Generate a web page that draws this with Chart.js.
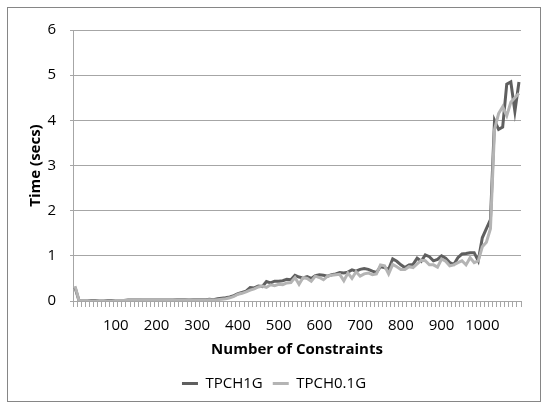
<!DOCTYPE html>
<html>
<head>
<meta charset="utf-8">
<script src="https://cdn.jsdelivr.net/npm/chart.js@4/dist/chart.umd.min.js"></script>
<style>
  html, body { margin: 0; padding: 0; background: #fff; }
  #wrap { position: relative; width: 548px; height: 403px; }
  #chart { position: absolute; left: 0; top: 0; }
  #frame { position: absolute; left: 7px; top: 7px; width: 532px; height: 393px; border: 1px solid #868686; pointer-events: none; }
</style>
</head>
<body>
<div id="wrap">
  <canvas id="chart" width="548" height="403"></canvas>
  <div id="frame"></div>
</div>
<script>
// x categories (number of constraints)
const constraints = [
  0, 10, 20, 30, 40, 50, 60, 70, 80, 90,
  100, 110, 120, 130, 140, 150, 160, 170, 180, 190,
  200, 210, 220, 230, 240, 250, 260, 270, 280, 290,
  300, 310, 320, 330, 340, 350, 360, 370, 380, 390,
  400, 410, 420, 430, 440, 450, 460, 470, 480, 490,
  500, 510, 520, 530, 540, 550, 560, 570, 580, 590,
  600, 610, 620, 630, 640, 650, 660, 670, 680, 690,
  700, 710, 720, 730, 740, 750, 760, 770, 780, 790,
  800, 810, 820, 830, 840, 850, 860, 870, 880, 890,
  900, 910, 920, 930, 940, 950, 960, 970, 980, 990,
  1000, 1010, 1020, 1030, 1040, 1050, 1060, 1070, 1080, 1090
];

// labels that are shown under the x axis
const xTickLabels = [100, 200, 300, 400, 500, 600, 700, 800, 900, 1000];

// time in seconds, TPCH 1G
const tpch1g = [
  0.30, 0.00, 0.00, 0.00, 0.01, 0.01, 0.01, 0.01, 0.01, 0.01,
  0.01, 0.01, 0.01, 0.02, 0.02, 0.02, 0.02, 0.02, 0.02, 0.02,
  0.02, 0.02, 0.02, 0.02, 0.02, 0.03, 0.03, 0.03, 0.02, 0.03,
  0.03, 0.03, 0.03, 0.04, 0.03, 0.05, 0.06, 0.07, 0.09, 0.12,
  0.16, 0.19, 0.22, 0.30, 0.29, 0.33, 0.32, 0.43, 0.40, 0.44,
  0.44, 0.45, 0.48, 0.47, 0.57, 0.53, 0.51, 0.54, 0.50, 0.56,
  0.58, 0.57, 0.55, 0.58, 0.60, 0.63, 0.62, 0.64, 0.69, 0.66,
  0.70, 0.72, 0.70, 0.66, 0.63, 0.76, 0.74, 0.70, 0.93, 0.88,
  0.80, 0.74, 0.80, 0.81, 0.95, 0.88, 1.02, 0.98, 0.89, 0.92,
  1.00, 0.95, 0.85, 0.81, 0.96, 1.04, 1.05, 1.07, 1.07, 0.89,
  1.40, 1.60, 1.80, 4.00, 3.80, 3.85, 4.80, 4.85, 4.20, 4.85
];

// time in seconds, TPCH 0.1G
const tpch01g = [
  0.33, 0.00, 0.00, 0.00, 0.00, 0.00, 0.01, 0.01, 0.00, 0.00,
  0.01, 0.01, 0.01, 0.01, 0.01, 0.01, 0.01, 0.02, 0.02, 0.02,
  0.02, 0.02, 0.02, 0.02, 0.02, 0.02, 0.02, 0.02, 0.02, 0.02,
  0.02, 0.02, 0.02, 0.03, 0.02, 0.03, 0.04, 0.05, 0.07, 0.10,
  0.15, 0.17, 0.20, 0.24, 0.27, 0.31, 0.33, 0.30, 0.36, 0.34,
  0.37, 0.36, 0.40, 0.41, 0.52, 0.37, 0.52, 0.50, 0.44, 0.55,
  0.52, 0.47, 0.55, 0.57, 0.58, 0.59, 0.45, 0.62, 0.50, 0.65,
  0.55, 0.60, 0.62, 0.58, 0.60, 0.80, 0.78, 0.60, 0.81, 0.76,
  0.70, 0.70, 0.76, 0.74, 0.82, 0.90, 0.89, 0.80, 0.80, 0.75,
  0.93, 0.88, 0.78, 0.80, 0.85, 0.89, 0.80, 0.96, 0.85, 0.89,
  1.20, 1.30, 1.60, 3.80, 4.15, 4.30, 4.10, 4.40, 4.50, 4.60
];

const gridColor = '#a6a6a6';
const fontFamily = "'Open Sans', sans-serif";

const ctx = document.getElementById('chart').getContext('2d');
new Chart(ctx, {
    type: 'line',
    data: {
        labels: constraints,
        datasets: [{
            label: 'TPCH1G',
            data: tpch1g,
            borderColor: '#5f5f5f',
            backgroundColor: '#5f5f5f',
            borderWidth: 3,
            pointRadius: 0,
            tension: 0,
            order: 1
        }, {
            label: 'TPCH0.1G',
            data: tpch01g,
            borderColor: '#b4b4b4',
            backgroundColor: '#b4b4b4',
            borderWidth: 3,
            pointRadius: 0,
            tension: 0,
            order: 0
        }]
    },
    options: {
        responsive: false,
        animation: false,
        layout: {
            padding: { left: 27, right: 27, top: 30, bottom: 2 }
        },
        scales: {
            x: {
                type: 'category',
                offset: true,
                grid: {
                    offset: true,
                    drawOnChartArea: false,
                    tickLength: 6,
                    color: gridColor
                },
                border: { color: gridColor },
                ticks: {
                    autoSkip: false,
                    maxRotation: 0,
                    minRotation: 0,
                    padding: 10,
                    color: '#000',
                    font: { family: fontFamily, size: 15 },
                    callback: function (value) {
                        const c = this.getLabelForValue(value);
                        return xTickLabels.includes(Number(c)) ? String(c) : '';
                    }
                },
                title: {
                    display: true,
                    text: 'Number of Constraints',
                    color: '#000',
                    font: { family: fontFamily, size: 15, weight: 'bold' },
                    padding: { top: 1, bottom: 7 }
                },
                afterFit: function (axis) {
                    axis.height -= 5;
                }
            },
            y: {
                min: 0,
                max: 6,
                ticks: {
                    stepSize: 1,
                    padding: 14,
                    color: '#000',
                    font: { family: fontFamily, size: 15 }
                },
                grid: { color: gridColor, tickLength: 3 },
                border: { color: gridColor },
                title: {
                    display: true,
                    text: 'Time (secs)',
                    color: '#000',
                    font: { family: fontFamily, size: 15, weight: 'bold' },
                    padding: { top: 0, bottom: 4 }
                },
                afterFit: function (axis) {
                    axis.width = 46;
                }
            }
        },
        plugins: {
            legend: {
                position: 'bottom',
                labels: {
                    color: '#000',
                    font: { family: fontFamily, size: 15 },
                    usePointStyle: true,
                    pointStyle: 'line',
                    pointStyleWidth: 16,
                    padding: 10,
                    sort: function (a, b) {
                        return a.datasetIndex - b.datasetIndex;
                    }
                }
            },
            tooltip: { enabled: false }
        }
    }
});
</script>
</body>
</html>
